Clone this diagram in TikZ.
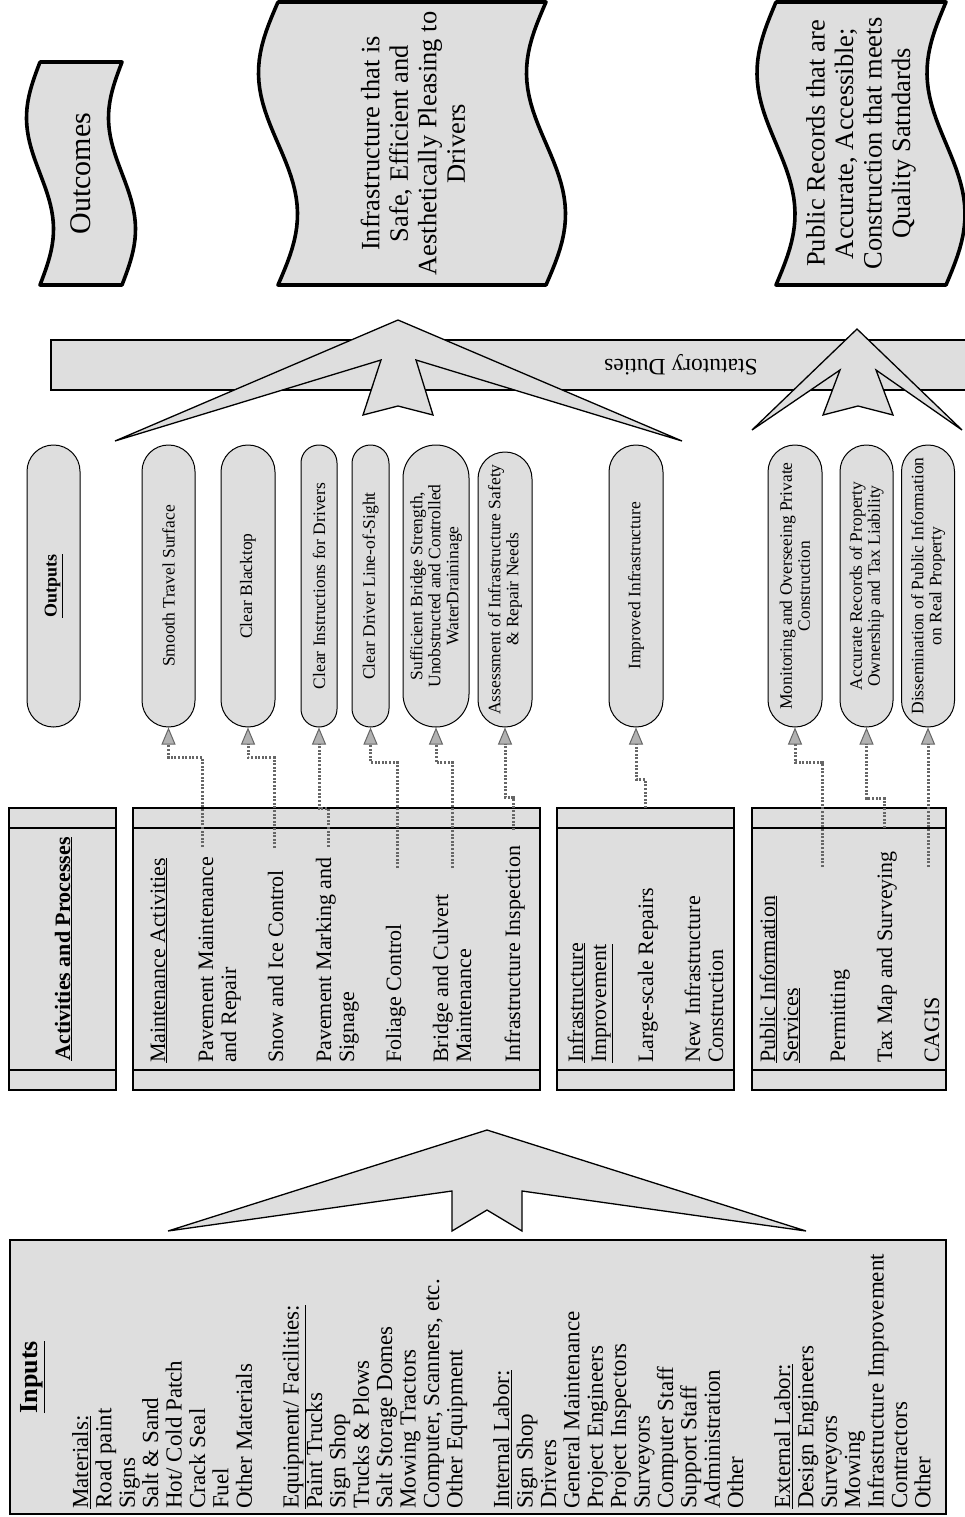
\documentclass[tikz,border=0pt]{standalone}
\usepackage{fontspec}
\setmainfont{Liberation Serif}
\usetikzlibrary{arrows.meta}

\begin{document}
\begin{tikzpicture}[x=1pt,y=-1pt,
  grayfill/.style={fill=black!13},
  boxframe/.style={draw=black, line width=1.3pt, grayfill},
  tapeline/.style={draw=black, line width=3.6pt, grayfill, line join=round},
  chev/.style={draw=black, line width=1.3pt, grayfill, line join=miter},
  pill/.style={draw=black, line width=1pt, grayfill, rotate=90, inner sep=0pt, align=center,
               minimum width=282pt, font=\fontsize{17.5}{18}\selectfont},
  ln/.style={rotate=90, anchor=base west, inner sep=0pt},
  inp/.style={ln, font=\fontsize{23}{23}\selectfont},
  act/.style={ln, font=\fontsize{22}{22}\selectfont},
  link/.style={draw=black!60, line width=3pt, dash pattern=on 2pt off 1.6pt,
               -{Triangle[length=17pt,width=14pt,color=black!60,fill=black!30,line width=1pt]}},
]
\useasboundingbox (0,0) rectangle (964,1517);

% ---------- Outcomes (punched tapes) ----------
\draw[tapeline] (40,62) -- (122,62)
  -- plot[domain=62:285, samples=40, variable=\t] ({122-13.5*sin((\t-62)/223*360)}, \t)
  -- (40,285)
  -- plot[domain=285:62, samples=40, variable=\t] ({40-13.5*sin((\t-62)/223*360)}, \t) -- cycle;
\node[rotate=90, font=\fontsize{30}{30}\selectfont] (outc) at (81,173.5) {Outcomes};

\draw[tapeline] (278,2) -- (546,2)
  -- plot[domain=2:285, samples=40, variable=\t] ({546-19.5*sin((\t-2)/283*360)}, \t)
  -- (278,285)
  -- plot[domain=285:2, samples=40, variable=\t] ({278-19.5*sin((\t-2)/283*360)}, \t) -- cycle;
\node[rotate=90, align=center, font=\fontsize{26.5}{28.5}\selectfont] (infra) at (413,143.5)
  {Infrastructure that is\\Safe, Efficient and\\Aesthetically Pleasing to\\Drivers};

\draw[tapeline] (776,2) -- (946,2)
  -- plot[domain=2:285, samples=40, variable=\t] ({946-19*sin((\t-2)/283*360)}, \t)
  -- (776,285)
  -- plot[domain=285:2, samples=40, variable=\t] ({776-19*sin((\t-2)/283*360)}, \t) -- cycle;
\node[rotate=90, align=center, font=\fontsize{26.5}{28.5}\selectfont] (recs) at (861,143.5)
  {Public Records that are\\Accurate, Accessible;\\Construction that meets\\Quality Satndards};

% ---------- Statutory duties band ----------
\draw[boxframe] (51,340) rectangle (975,390);
\node[rotate=180, font=\fontsize{23.5}{24}\selectfont] (stat) at (681,365) {Statutory Duties};

% ---------- chevrons ----------
\draw[chev] (398,320) -- (682,441) -- (416,360) -- (433,415) -- (398,406)
  -- (363,415) -- (381,360) -- (115,441) -- cycle;
\draw[chev] (857,329) -- (962,430) -- (876,370) -- (893,415) -- (858,406)
  -- (823,415) -- (840,370) -- (752,430) -- cycle;
\draw[chev] (487,1130) -- (806,1231) -- (522,1191) -- (522,1231) -- (487,1210)
  -- (452,1231) -- (452,1191) -- (168,1231) -- cycle;

% ---------- Outputs ----------
\node[pill, minimum height=53pt, rounded corners=26.4pt, font=\bfseries\fontsize{18}{18}\selectfont] (p0) at (53.5,586) {\underline{Outputs}};
\node[pill, minimum height=53pt, rounded corners=26.4pt] (p1) at (168.5,586) {Smooth Travel Surface};
\node[pill, minimum height=54pt, rounded corners=26.9pt] (p2) at (248,586) {Clear Blacktop};
\node[pill, minimum height=36pt, rounded corners=17.9pt] (p3) at (319,586) {Clear Instructions for Drivers};
\node[pill, minimum height=37pt, rounded corners=18.4pt] (p4) at (370.5,586) {Clear Driver Line-of-Sight};
\node[pill, minimum height=66pt, rounded corners=32.9pt] (p5) at (436,586)
  {Sufficient Bridge Strength,\\Unobstructed and Controlled\\WaterDraininage};
\node[pill, minimum height=54pt, minimum width=275pt, rounded corners=26.9pt] (p6) at (505,589.5)
  {Assessment of Infrastructure Safety\\\& Repair Needs};
\node[pill, minimum height=54pt, rounded corners=26.9pt] (p7) at (636,586) {Improved Infrastructure};
\node[pill, minimum height=54pt, rounded corners=26.9pt] (p8) at (795,586)
  {Monitoring and Overseeing Private\\Construction};
\node[pill, minimum height=53pt, rounded corners=26.4pt] (p9) at (866.5,586)
  {Accurate Records of Property\\Ownership and Tax Liability};
\node[pill, minimum height=53pt, rounded corners=26.4pt] (p10) at (928,586)
  {Dissemination of Public Information\\on Real Property};

% ---------- Activities and processes ----------
\draw[boxframe] (9,808) rectangle (116,1090);
\draw[line width=1.3pt] (9,828) -- (116,828) (9,1070) -- (116,1070);
\node[rotate=90, anchor=base, inner sep=0pt, font=\bfseries\fontsize{22}{22}\selectfont] (hdr) at (70,949)
  {\underline{Activities and Processes}};

\draw[boxframe] (133,808) rectangle (540,1090);
\draw[line width=1.3pt] (133,828) -- (540,828) (133,1070) -- (540,1070);
\node[act] (m0) at (165,1063) {\underline{Maintenance Activities}};
\node[act] (m1) at (213,1063) {Pavement Maintenance};
\node[act] (m1b) at (236,1063) {and Repair};
\node[act] (m2) at (283,1063) {Snow and Ice Control};
\node[act] (m3) at (331,1063) {Pavement Marking and};
\node[act] (m3b) at (354,1063) {Signage};
\node[act] (m4) at (401,1063) {Foliage Control};
\node[act] (m5) at (448,1063) {Bridge and Culvert};
\node[act] (m5b) at (471,1063) {Maintenance};
\node[act] (m6) at (520,1063) {Infrastructure Inspection};

\draw[boxframe] (557,808) rectangle (734,1090);
\draw[line width=1.3pt] (557,828) -- (734,828) (557,1070) -- (734,1070);
\node[act] (i0) at (583,1063) {\underline{Infrastructure}};
\node[act] (i0b) at (606,1063) {\underline{Improvement}};
\node[act] (i1) at (653,1063) {Large-scale Repairs};
\node[act] (i2) at (700,1063) {New Infrastructure};
\node[act] (i2b) at (723,1063) {Construction};

\draw[boxframe] (752,808) rectangle (946,1090);
\draw[line width=1.3pt] (752,828) -- (946,828) (752,1070) -- (946,1070);
\node[act] (u0) at (775,1063) {\underline{Public Information}};
\node[act] (u0b) at (798,1063) {\underline{Services}};
\node[act] (u1) at (845,1063) {Permitting};
\node[act] (u2) at (892,1063) {Tax Map and Surveying};
\node[act] (u3) at (939,1063) {CAGIS};

% ---------- links from activities to outputs ----------
\coordinate (s1) at (202,847);
\coordinate (s2) at (274,848);
\coordinate (s3) at (328,847);
\coordinate (s4) at (397,868);
\coordinate (s5) at (452,868);
\coordinate (s6) at (513,830);
\coordinate (s7) at (645,808);
\coordinate (s8) at (822,867);
\coordinate (s9) at (884,828);
\coordinate (s10) at (928,867);
\draw[link] (s1) |- ([yshift=-30pt]p1.west) -- (p1.west);
\draw[link] (s2) |- ([yshift=-30pt]p2.west) -- (p2.west);
\draw[link] (s3) |- ([yshift=-81pt]p3.west) -- (p3.west);
\draw[link] (s4) |- ([yshift=-35pt]p4.west) -- (p4.west);
\draw[link] (s5) |- ([yshift=-35pt]p5.west) -- (p5.west);
\draw[link] (s6) |- ([yshift=-70pt]p6.west) -- (p6.west);
\draw[link] (s7) |- ([yshift=-52pt]p7.west) -- (p7.west);
\draw[link] (s8) |- ([yshift=-35pt]p8.west) -- (p8.west);
\draw[link] (s9) |- ([yshift=-71pt]p9.west) -- (p9.west);
\draw[link] (s10) -- (p10.west);

% ---------- Inputs ----------
\draw[boxframe] (10,1240) rectangle (946,1514);
\node[rotate=90, anchor=base, inner sep=0pt, font=\bfseries\fontsize{26}{26}\selectfont] (intitle) at (37,1377)
  {\underline{Inputs}};
\foreach \t [count=\i from 0] in {
  \underline{Materials:}, Road paint, Signs, Salt \& Sand, Hot/ Cold Patch, Crack Seal, Fuel, Other Materials, {},
  \underline{Equipment/ Facilities:}, Paint Trucks, Sign Shop, Trucks \& Plows, Salt Storage Domes,
  Mowing Tractors, {Computer, Scanners, etc.}, Other Equipment, {},
  \underline{Internal Labor:}, Sign Shop, Drivers, General Maintenance, Project Engineers, Project Inspectors,
  Surveyors, Computer Staff, Support Staff, Administration, Other, {},
  \underline{External Labor:}, Design Engineers, Surveyors, Mowing, Infrastructure Improvement, Contractors, Other}
  \node[inp] (in\i) at ({88+23.4*\i},1509) {\t};

\end{tikzpicture}
\end{document}
